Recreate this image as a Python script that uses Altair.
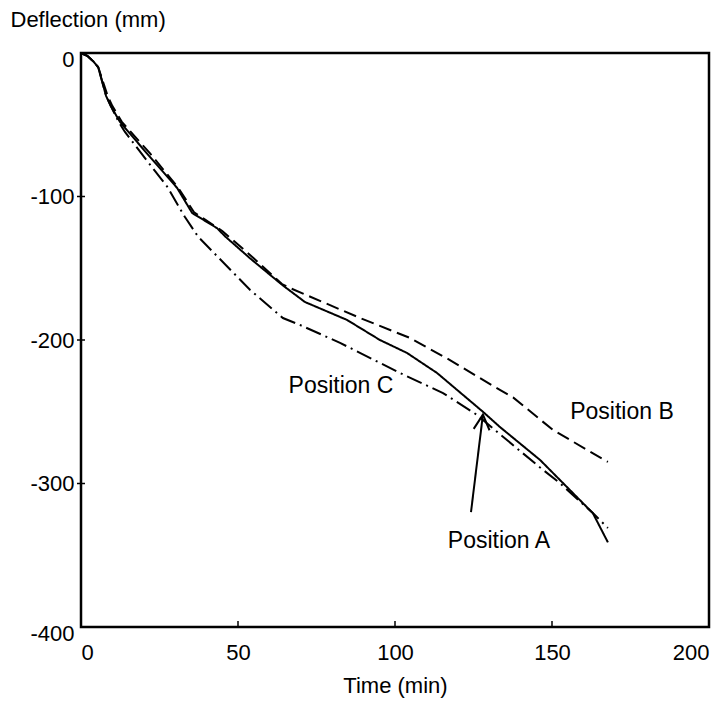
import altair as alt
import pandas as pd

# ---- data ----
a_time = [0, 2, 4, 5.5, 7, 8, 9.5, 12.4, 21, 30.6, 35.4, 43.3, 46, 53.8, 64.3, 71.3, 84.7, 95.2, 103.8, 113.4, 128, 133.4, 146.2, 153.5, 163, 167.8]
a_defl = [0, -2, -6, -10, -22, -30, -37, -48, -70, -94, -111.5, -122, -128, -143, -162, -173.5, -186, -200, -209, -223, -250, -260.6, -283.6, -299.7, -320.6, -341]

b_time = [0, 2, 4, 5.5, 7.3, 8.5, 10, 13, 22, 31, 36, 45, 55, 64, 66.6, 88.9, 104.8, 117.5, 127, 133.4, 137.6, 150.3, 167.8]
b_defl = [0, -2, -6, -10, -22, -30, -37, -48, -70, -94, -111, -124, -143, -161, -163.8, -184.7, -198.6, -214, -226.5, -234.8, -240, -262.7, -285]

c_time = [0, 2, 4, 5.5, 7, 8, 9.5, 12, 14, 21, 27.4, 33, 37.3, 53.8, 64.3, 69.7, 82.5, 101.6, 115.3, 126, 130.3, 146, 152.5, 163, 167.8]
c_defl = [0, -2, -6, -10, -22, -30, -37, -48, -55, -75, -93, -114, -128, -165, -184.7, -189.5, -202, -223, -237, -252, -260, -288.5, -299.7, -320.6, -331]

label_text = ["Position C", "Position B", "Position A"]
label_x = [82.8, 172.3, 133.1]
label_y = [-232, -250.2, -340]

arrow_tail = (124.2, -320)
arrow_tip = (128, -252)

x_ticks = [50, 100, 150]
y_ticks = [-100, -200, -300]

W, H = 628, 574
AXIS_FONT = "Liberation Sans Narrow, Arial Narrow, Liberation Sans, Arial"

series = pd.concat([
    pd.DataFrame({"t": a_time, "d": a_defl, "s": "A"}),
    pd.DataFrame({"t": b_time, "d": b_defl, "s": "B"}),
    pd.DataFrame({"t": c_time, "d": c_defl, "s": "C"}),
])

xs = alt.Scale(domain=[0, 200], nice=False, zero=False)
ys = alt.Scale(domain=[-400, 0], nice=False, zero=False)

nb = "\u00a0\u00a0\u00a0"

base = alt.Chart(series).mark_line(strokeWidth=2, color="black").encode(
    x=alt.X("t:Q", scale=xs, axis=alt.Axis(values=[0, 50, 100, 150, 200], title="Time (min)",
                                             labelPadding=15, titlePadding=12,
                                             labelExpr="toString(datum.value)")),
    y=alt.Y("d:Q", scale=ys, axis=alt.Axis(values=[0, -100, -200, -300, -400], title="Deflection (mm)",
                                             labelPadding=7, titleAngle=0, titleAlign="left",
                                             titleBaseline="alphabetic", titleX=-71, titleY=-27,
                                             labelOffset={"condition": {"test": "datum.value == 0 || datum.value == -400", "value": 6}, "value": 0},
                                             labelExpr="datum.value == -400 ? '-400" + nb + "' : toString(datum.value)")),
    strokeDash=alt.StrokeDash("s:N", scale=alt.Scale(domain=["A", "B", "C"],
                                                     range=[[1, 0], [13, 6], [16, 5, 2, 5]]), legend=None),
    detail="s:N",
)

xt = alt.Chart(pd.DataFrame({"v": x_ticks})).mark_rule(color="black", strokeWidth=1.5).encode(
    x=alt.X("v:Q", scale=xs), y=alt.value(H), y2=alt.value(H - 6))
yt = alt.Chart(pd.DataFrame({"v": y_ticks})).mark_rule(color="black", strokeWidth=1.5).encode(
    y=alt.Y("v:Q", scale=ys), x=alt.value(-4), x2=alt.value(4))

labels = alt.Chart(pd.DataFrame({"x": label_x, "y": label_y, "text": label_text})).mark_text(
    font="Liberation Sans", fontSize=23, color="black", align="center", baseline="middle").encode(
    x=alt.X("x:Q", scale=xs), y=alt.Y("y:Q", scale=ys), text="text:N")

arrow = alt.Chart(pd.DataFrame({"x": [arrow_tail[0]], "y": [arrow_tail[1]],
                                "x2": [arrow_tip[0]], "y2": [arrow_tip[1]]})).mark_rule(
    color="black", strokeWidth=2).encode(
    x=alt.X("x:Q", scale=xs), y=alt.Y("y:Q", scale=ys), x2="x2:Q", y2="y2:Q")

head = alt.Chart(pd.DataFrame({"x": [arrow_tip[0]], "y": [arrow_tip[1]]})).mark_point(
    shape="M -0.53 1 L 0 0 L 0.53 1", size=900, angle=5, filled=False, color="black",
    strokeWidth=2, opacity=1).encode(
    x=alt.X("x:Q", scale=xs), y=alt.Y("y:Q", scale=ys))

chart = alt.layer(base, xt, yt, arrow, head, labels).properties(
    width=W, height=H,
    autosize=alt.AutoSizeParams(type="none"),
    padding={"left": 81, "top": 53, "right": 15, "bottom": 79},
    background="white",
).configure_view(stroke="black", strokeWidth=2.5).configure_axis(
    domain=False, ticks=False, grid=False,
    labelFont=AXIS_FONT, labelFontSize=22, labelColor="black",
    titleFont=AXIS_FONT, titleFontSize=22, titleColor="black", titleFontWeight="normal",
)

chart.save("out.html", embed_options={"renderer": "svg", "actions": False})
